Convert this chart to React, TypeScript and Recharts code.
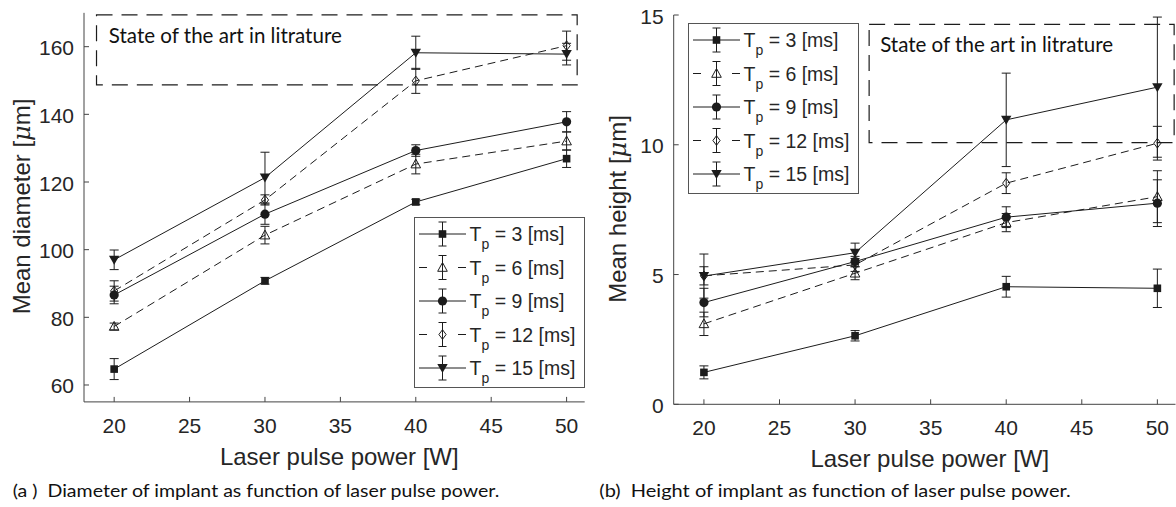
import React from "react";
import {
  ComposedChart,
  Line,
  XAxis,
  YAxis,
  ErrorBar,
  ReferenceArea,
  Legend,
} from "recharts";

// x values and ticks, shared by both panels
const POWER = [20, 30, 40, 50];
const X_TICKS = [20, 25, 30, 35, 40, 45, 50];
const PULSES = [3, 6, 9, 12, 15];

// (a) mean diameter [um] and error
const DIAM_3 = [64.7, 90.8, 114.1, 126.9];
const DIAM_3_ERR = [3.1, 1.0, 0.8, 2.6];
const DIAM_6 = [77.3, 104.3, 125.3, 132.1];
const DIAM_6_ERR = [1.0, 2.6, 2.9, 2.7];
const DIAM_9 = [86.6, 110.5, 129.3, 137.8];
const DIAM_9_ERR = [2.6, 3.0, 1.7, 3.0];
const DIAM_12 = [87.8, 114.7, 149.9, 160.3];
const DIAM_12_ERR = [3.0, 1.5, 3.7, 4.3];
const DIAM_15 = [97.0, 121.3, 158.2, 157.8];
const DIAM_15_ERR = [2.9, 7.5, 4.9, 3.2];
const DIAM_TICKS = [60, 80, 100, 120, 140, 160];

// (b) mean height [um] and error
const HEIGHT_3 = [1.23, 2.64, 4.53, 4.47];
const HEIGHT_3_ERR = [0.25, 0.2, 0.4, 0.74];
const HEIGHT_6 = [3.1, 5.05, 7.0, 8.0];
const HEIGHT_6_ERR = [0.45, 0.25, 0.35, 1.0];
const HEIGHT_9 = [3.92, 5.5, 7.21, 7.75];
const HEIGHT_9_ERR = [0.55, 0.2, 0.4, 0.9];
const HEIGHT_12 = [4.95, 5.37, 8.52, 10.06];
const HEIGHT_12_ERR = [0.35, 0.25, 0.4, 0.65];
const HEIGHT_15 = [4.94, 5.84, 10.96, 12.22];
const HEIGHT_15_ERR = [0.85, 0.37, 1.8, 2.7];
const HEIGHT_TICKS = [0, 5, 10, 15];

// "state of the art" regions, in data units: [x1, x2, y1, y2]
const LIT_A = [18.83, 50.7, 148.7, 169.4];
const LIT_B = [30.93, 51.11, 10.08, 14.64];
const LIT_TEXT = "State of the art in litrature";

const INK = "#1c1c1c";
const AXIS = "#444";
const SANS = "'Liberation Sans', Arial, sans-serif";
const HUMAN = "Lato, 'Open Sans', sans-serif";

type Shape = "square" | "triangle" | "circle" | "diamond" | "down";
const SHAPES: Shape[] = ["square", "triangle", "circle", "diamond", "down"];
const DASHED = [false, true, false, true, false];

function Marker({ shape, cx, cy }: { shape: Shape; cx: number; cy: number }) {
  if (cx == null || cy == null) return null;
  switch (shape) {
    case "square":
      return <rect x={cx - 3.8} y={cy - 3.8} width={7.6} height={7.6} fill={INK} />;
    case "triangle":
      return (
        <polygon
          points={`${cx},${cy - 5} ${cx - 4.8},${cy + 3.8} ${cx + 4.8},${cy + 3.8}`}
          fill="none"
          stroke={INK}
          strokeWidth={1}
        />
      );
    case "circle":
      return <circle cx={cx} cy={cy} r={4.6} fill={INK} />;
    case "diamond":
      return (
        <polygon
          points={`${cx},${cy - 4.8} ${cx + 3.6},${cy} ${cx},${cy + 4.8} ${cx - 3.6},${cy}`}
          fill="none"
          stroke={INK}
          strokeWidth={1}
        />
      );
    default:
      return (
        <polygon
          points={`${cx - 5.2},${cy - 4} ${cx + 5.2},${cy - 4} ${cx},${cy + 5}`}
          fill={INK}
        />
      );
  }
}

function LegendBox() {
  return (
    <svg width={171} height={171} style={{ display: "block" }}>
      <rect x={0.5} y={0.5} width={170} height={170} fill="#fff" stroke="#555" strokeWidth={1} />
      {PULSES.map((t, k) => {
        const y = 17 + k * 33.5;
        return (
          <g key={t}>
            {DASHED[k] ? (
              <>
                <line x1={5} x2={13} y1={y} y2={y} stroke={INK} />
                <line x1={44} x2={52} y1={y} y2={y} stroke={INK} />
              </>
            ) : (
              <line x1={5} x2={52} y1={y} y2={y} stroke={INK} />
            )}
            <line x1={28.5} x2={28.5} y1={y - 12} y2={y + 12} stroke={INK} />
            <line x1={24.5} x2={32.5} y1={y - 12} y2={y - 12} stroke={INK} />
            <line x1={24.5} x2={32.5} y1={y + 12} y2={y + 12} stroke={INK} />
            <Marker shape={SHAPES[k]} cx={28.5} cy={y} />
            <text x={55.5} y={y + 7} fontFamily={SANS} fontSize={19.5} fill="#262626">
              T
              <tspan dy={8} fontSize={14}>p</tspan>
              <tspan dy={-8}>{` = ${t} [ms]`}</tspan>
            </text>
          </g>
        );
      })}
    </svg>
  );
}

interface PanelProps {
  means: number[][];
  errs: number[][];
  yDomain: [number, number];
  yTicks: number[];
  width: number;
  height: number;
  margin: { top: number; right: number; bottom: number; left: number };
  box: number[];
  boxTextDx: number;
  boxTextDy: number;
  legendLeft: number;
  legendTop: number;
}

function Panel(p: PanelProps) {
  const rows = POWER.map((x, i) => {
    const r: Record<string, number> = { power: x };
    PULSES.forEach((t, k) => {
      r[`m${t}`] = p.means[k][i];
      r[`e${t}`] = p.errs[k][i];
    });
    return r;
  });
  const plotLeft = p.margin.left + 40;
  const plotBottom = p.height - p.margin.bottom - 30;

  const xTick = (props: any) => (
    <g>
      <line x1={props.x} x2={props.x} y1={plotBottom} y2={plotBottom - 5} stroke={AXIS} />
      <text x={props.x} y={plotBottom + 31} textAnchor="middle" fontFamily={SANS} fontSize={21} fill="#262626">
        {props.payload.value}
      </text>
    </g>
  );
  const yTick = (props: any) => (
    <g>
      <line x1={plotLeft} x2={plotLeft + 5} y1={props.y} y2={props.y} stroke={AXIS} />
      <text x={plotLeft - 10} y={props.y + 8.5} textAnchor="end" fontFamily={SANS} fontSize={21} fill="#262626">
        {props.payload.value}
      </text>
    </g>
  );

  return (
    <ComposedChart width={p.width} height={p.height} data={rows} margin={p.margin}>
      <XAxis
        type="number"
        dataKey="power"
        domain={[18, 51.2]}
        ticks={X_TICKS}
        interval={0}
        height={30}
        tickLine={false}
        axisLine={{ stroke: AXIS }}
        tick={xTick}
      />
      <YAxis
        type="number"
        domain={p.yDomain}
        ticks={p.yTicks}
        interval={0}
        width={40}
        tickLine={false}
        axisLine={{ stroke: AXIS }}
        tick={yTick}
      />
      <ReferenceArea
        x1={p.box[0]}
        x2={p.box[1]}
        y1={p.box[2]}
        y2={p.box[3]}
        fill="none"
        fillOpacity={0}
        stroke={INK}
        strokeWidth={1.2}
        strokeDasharray="16 9"
        label={(lp: any) => (
          <text
            x={lp.viewBox.x + p.boxTextDx}
            y={lp.viewBox.y + p.boxTextDy}
            fontFamily={HUMAN}
            fontSize={21}
            fill="#111"
            textLength={233}
            lengthAdjust="spacingAndGlyphs"
          >
            {LIT_TEXT}
          </text>
        )}
      />
      {PULSES.map((t, k) => (
        <Line
          key={t}
          type="linear"
          dataKey={`m${t}`}
          stroke={INK}
          strokeWidth={1}
          strokeDasharray={DASHED[k] ? "8 5" : undefined}
          dot={(d: any) => <Marker key={`${t}-${d.index}`} shape={SHAPES[k]} cx={d.cx} cy={d.cy} />}
          activeDot={false}
          isAnimationActive={false}
        >
          <ErrorBar dataKey={`e${t}`} width={4.5} stroke={INK} strokeWidth={1} direction="y" />
        </Line>
      ))}
      <Legend
        layout="vertical"
        align="center"
        verticalAlign="middle"
        wrapperStyle={{ left: p.legendLeft, top: p.legendTop, width: 171, height: 171 }}
        content={() => <LegendBox />}
      />
    </ComposedChart>
  );
}

export default function App() {
  return (
    <div style={{ position: "absolute", left: 0, top: 0, width: 1176, height: 507, background: "#fff", overflow: "hidden" }}>
      <div style={{ position: "absolute", left: 0, top: 0 }}>
        <Panel
          means={[DIAM_3, DIAM_6, DIAM_9, DIAM_12, DIAM_15]}
          errs={[DIAM_3_ERR, DIAM_6_ERR, DIAM_9_ERR, DIAM_12_ERR, DIAM_15_ERR]}
          yDomain={[55, 170]}
          yTicks={DIAM_TICKS}
          width={600}
          height={507}
          margin={{ top: 12.85, right: 15.3, bottom: 75.1, left: 44 }}
          box={LIT_A}
          boxTextDx={12.3}
          boxTextDy={28.5}
          legendLeft={413.7}
          legendTop={216.7}
        />
      </div>
      <div style={{ position: "absolute", left: 600, top: 0 }}>
        <Panel
          means={[HEIGHT_3, HEIGHT_6, HEIGHT_9, HEIGHT_12, HEIGHT_15]}
          errs={[HEIGHT_3_ERR, HEIGHT_6_ERR, HEIGHT_9_ERR, HEIGHT_12_ERR, HEIGHT_15_ERR]}
          yDomain={[0, 15]}
          yTicks={HEIGHT_TICKS}
          width={576}
          height={507}
          margin={{ top: 15, right: 0.5, bottom: 72.7, left: 33.7 }}
          box={LIT_B}
          boxTextDx={11}
          boxTextDy={27.4}
          legendLeft={87.7}
          legendTop={23.3}
        />
      </div>
      <svg width={1176} height={507} style={{ position: "absolute", left: 0, top: 0, pointerEvents: "none" }}>
        <g fontFamily={SANS} fontSize={24} fill="#262626" textAnchor="middle">
          <text transform="translate(29.5,206.5) rotate(-90)">
            Mean diameter [<tspan fontFamily="'DejaVu Serif', serif" fontStyle="italic">μ</tspan>m]
          </text>
          <text transform="translate(626,209) rotate(-90)">
            Mean height [<tspan fontFamily="'DejaVu Serif', serif" fontStyle="italic">μ</tspan>m]
          </text>
          <text x={339.3} y={465}>Laser pulse power [W]</text>
          <text x={929.8} y={466.5}>Laser pulse power [W]</text>
        </g>
        <g fontFamily={HUMAN} fontSize={18} fill="#111">
          <text x={12.7} y={496.5} xmlSpace="preserve" textLength={486.6} lengthAdjust="spacingAndGlyphs">
            {"(a )  Diameter of implant as function of laser pulse power."}
          </text>
          <text x={599.3} y={497} xmlSpace="preserve" textLength={471.4} lengthAdjust="spacingAndGlyphs">
            {"(b)  Height of implant as function of laser pulse power."}
          </text>
        </g>
      </svg>
    </div>
  );
}
